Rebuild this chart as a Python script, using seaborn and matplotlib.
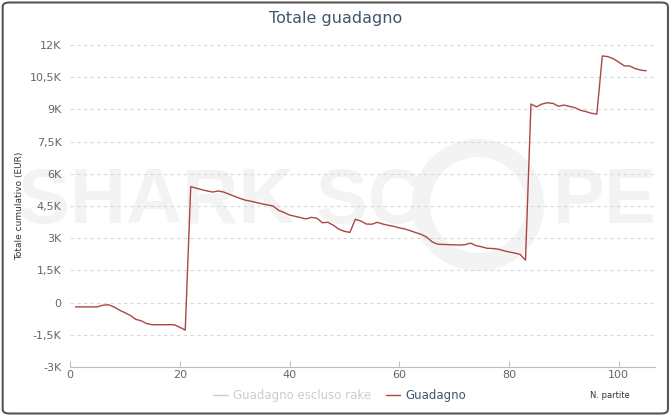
import matplotlib
matplotlib.use('Agg')
import matplotlib.pyplot as plt
import pandas as pd
import seaborn as sns
from matplotlib.lines import Line2D
from matplotlib.patches import FancyBboxPatch, Circle

# Cumulative winnings per game (EUR)
games = list(range(1, 106))
guadagno = [
    -200, -200, -200, -200, -200, -120, -100, -200, -350, -470,
    -600, -780, -850, -980, -1030, -1030, -1030, -1030, -1030, -1150,
    -1280, 5400, 5330, 5260, 5200, 5150, 5200, 5150, 5050, 4950,
    4850, 4770, 4720, 4660, 4600, 4550, 4500, 4300, 4200, 4080,
    4020, 3960, 3900, 3970, 3930, 3720, 3740, 3600, 3420, 3320,
    3270, 3880, 3800, 3660, 3650, 3740, 3660, 3600, 3550, 3480,
    3430, 3350, 3260, 3180, 3050, 2830, 2720, 2710, 2700, 2690,
    2680, 2700, 2770, 2650, 2600, 2530, 2520, 2490, 2420, 2360,
    2310, 2250, 1980, 9250, 9120, 9250, 9310, 9280, 9150, 9200,
    9140, 9080, 8960, 8900, 8820, 8780, 11490, 11460, 11360, 11200,
    11030, 11020, 10900, 10830, 10800,
]

y_ticks = [-3000, -1500, 0, 1500, 3000, 4500, 6000, 7500, 9000, 10500, 12000]
y_tick_labels = ['-3K', '-1,5K', '0', '1,5K', '3K', '4,5K', '6K', '7,5K', '9K', '10,5K', '12K']
x_ticks = [0, 20, 40, 60, 80, 100]

df = pd.DataFrame({'partite': games, 'guadagno': guadagno})

sns.set_style('white')
plt.rcParams['font.family'] = ['DejaVu Sans']

fig = plt.figure(figsize=(6.72, 4.16), dpi=100)
ax = fig.add_axes([70 / 672, 49 / 416, 585 / 672, 322 / 416])
ax.set_axisbelow(True)

# background watermark, kept behind everything in the axes
wm = '#f3f3f3'
ax.text(18 / 672, 1 - 203 / 416, 'SHARK SC', fontsize=56, fontweight='bold', color=wm,
        family='Liberation Sans', va='center', ha='left', zorder=-5,
        transform=fig.transFigure, clip_on=False)
ax.text(553 / 672, 1 - 203 / 416, 'PE', fontsize=56, fontweight='bold', color=wm,
        family='Liberation Sans', va='center', ha='left', zorder=-5,
        transform=fig.transFigure, clip_on=False)
ring = Circle((4.78, 4.16 - 2.05), 0.57, transform=fig.dpi_scale_trans,
              fill=False, edgecolor=wm, linewidth=13, zorder=-5, clip_on=False)
ax.add_artist(ring)
ax.patch.set_alpha(0)

sns.lineplot(data=df, x='partite', y='guadagno', ax=ax, color='#AA4643', linewidth=1)

ax.set_xlim(0, 106.6)
ax.set_ylim(-3000, 12000)
ax.set_yticks(y_ticks)
ax.set_yticklabels(y_tick_labels)
ax.set_xticks(x_ticks)
ax.set_xlabel('')
ax.set_ylabel('Totale cumulativo (EUR)', fontsize=6.5, color='#333333', labelpad=4)
ax.yaxis.grid(True, linestyle=(0, (3, 3)), color='#d8d8d8', linewidth=0.8)
ax.xaxis.grid(False)
for s in ['top', 'right', 'left']:
    ax.spines[s].set_visible(False)
ax.spines['bottom'].set_color('#c0c0c0')
ax.tick_params(axis='y', length=0, labelsize=8, labelcolor='#666666', pad=6)
ax.tick_params(axis='x', direction='in', length=4, color='#c0c0c0',
               labelsize=8, labelcolor='#666666', pad=2, bottom=True)

fig.text(0.5, 1 - 18 / 416, 'Totale guadagno', ha='center', va='center',
         fontsize=11.5, color='#3E576F')
fig.text(610 / 672, 1 - 396 / 416, 'N. partite', ha='center', va='center',
         fontsize=6, color='#333333')

handles = [Line2D([], [], color='#cccccc', linewidth=1),
           Line2D([], [], color='#AA4643', linewidth=1)]
leg = fig.legend(handles, ['Guadagno escluso rake', 'Guadagno'], loc='center',
                 bbox_to_anchor=(340 / 672, 1 - 396 / 416), ncol=2, frameon=False,
                 fontsize=8.5, handlelength=1.2, handletextpad=0.5, columnspacing=1.2)
leg.get_texts()[0].set_color('#cccccc')
leg.get_texts()[1].set_color('#3E576F')

border = FancyBboxPatch((0.004, 0.006), 0.99, 0.988, transform=fig.transFigure,
                        boxstyle='round,pad=0,rounding_size=0.01', fill=False,
                        edgecolor='#555555', linewidth=1.5)
fig.patches.append(border)

fig.savefig('out.png', dpi=100)
